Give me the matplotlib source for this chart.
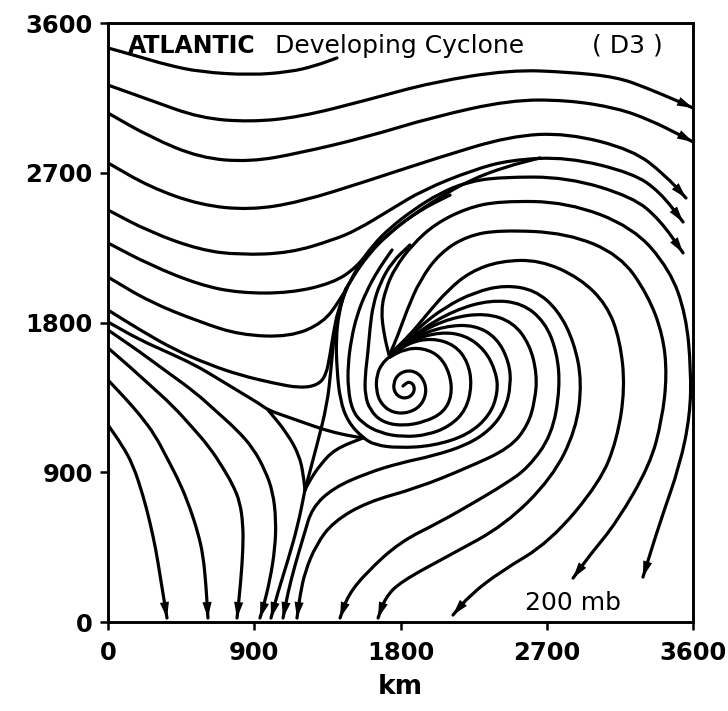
import matplotlib
matplotlib.use("Agg")
import matplotlib.pyplot as plt
from matplotlib.path import Path
from matplotlib.patches import PathPatch, FancyArrowPatch

# ---------------- data: streamlines (km) ----------------
ticks = [0, 900, 1800, 2700, 3600]
tick_labels = ["0", "900", "1800", "2700", "3600"]

w1_x = [0, 197, 363, 566, 874, 1120, 1274, 1409]
w1_y = [3450, 3396, 3348, 3306, 3287, 3306, 3342, 3390]

w2_x = [0, 258, 566, 874, 1182, 1594, 2000, 2474, 2825, 3132, 3317, 3520, 3600]
w2_y = [3227, 3137, 3029, 3005, 3035, 3137, 3245, 3318, 3306, 3275, 3209, 3125, 3089]

w3_x = [0, 258, 566, 874, 1182, 1594, 2000, 2474, 2825, 3132, 3335, 3520, 3600]
w3_y = [3059, 2915, 2789, 2765, 2819, 2915, 3035, 3137, 3137, 3089, 3017, 2927, 2885]

w4_x = [0, 258, 566, 874, 1182, 1594, 2025, 2474, 2825, 3231, 3428, 3557]
w4_y = [2759, 2614, 2506, 2476, 2524, 2650, 2789, 2921, 2939, 2837, 2686, 2548]

w5_x = [0, 258, 566, 812, 1120, 1385, 1532, 1735, 1938, 2246, 2474, 2825, 3231, 3397, 3539]
w5_y = [2476, 2344, 2236, 2206, 2218, 2296, 2356, 2476, 2596, 2717, 2777, 2795, 2698, 2584, 2404]

l6_x = [0, 258, 566, 812, 1120, 1385, 1532, 1631, 1735, 1877, 2043, 2209, 2412, 2825, 3231, 3397, 3539]
l6_y = [2278, 2146, 2025, 1977, 1977, 2037, 2133, 2266, 2368, 2476, 2578, 2644, 2674, 2674, 2554, 2416, 2218]

l7_x = [0, 258, 566, 812, 1120, 1323, 1428, 1502, 1600, 1735, 1920, 2105]
l7_y = [2073, 1923, 1803, 1725, 1713, 1797, 1935, 2067, 2206, 2344, 2476, 2566]

l8_x = [0, 197, 412, 628, 812, 1015, 1182, 1292, 1342, 1366, 1385, 1415, 1477]
l8_y = [1875, 1755, 1635, 1545, 1484, 1436, 1406, 1424, 1484, 1605, 1725, 1875, 2025]

b5_x = [0, 197, 363, 535, 671, 812, 935, 985, 1089, 1212, 1335, 1458, 1569]
b5_y = [1803, 1695, 1623, 1545, 1466, 1382, 1310, 1274, 1238, 1196, 1154, 1124, 1106]

b4_x = [0, 197, 363, 535, 671, 794, 892, 966, 1015, 1034, 1028, 997, 954, 935]
b4_y = [1755, 1623, 1503, 1382, 1262, 1154, 1046, 914, 781, 613, 445, 252, 84, 24]

b3_x = [0, 135, 258, 394, 523, 628, 708, 769, 812, 831, 831, 818, 794]
b3_y = [1647, 1533, 1424, 1304, 1166, 1046, 926, 823, 721, 583, 445, 252, 24]

b2_x = [0, 105, 197, 289, 363, 443, 505, 554, 585, 603, 615]
b2_y = [1454, 1346, 1244, 1124, 986, 835, 685, 535, 403, 222, 24]

b1_x = [0, 86, 154, 215, 258, 295, 320, 345, 363]
b1_y = [1184, 1064, 944, 763, 601, 433, 282, 132, 24]

tri_l_x = [985, 1102, 1182, 1206, 1212]
tri_l_y = [1274, 1136, 992, 853, 793]

tri_r_x = [1569, 1397, 1305, 1243, 1212]
tri_r_y = [1106, 1040, 944, 853, 793]

sep_x = [1212, 1286, 1348, 1372, 1391, 1428, 1489, 1582, 1705, 1858, 2043, 2228, 2443, 2658]
sep_y = [793, 1064, 1304, 1515, 1725, 1905, 2055, 2194, 2314, 2434, 2554, 2656, 2735, 2789]

t_down_x = [1212, 1169, 1108, 1046, 1003]
t_down_y = [793, 583, 373, 180, 24]

core_x = [1815, 1852, 1889, 1877, 1822, 1766, 1754, 1791, 1865, 1932, 1963, 1932, 1852, 1754, 1680, 1649, 1655, 1686, 1723]
core_y = [1418, 1448, 1418, 1364, 1340, 1370, 1436, 1496, 1515, 1478, 1394, 1304, 1256, 1256, 1310, 1394, 1490, 1551, 1587]

r2_x = [1735, 1828, 1938, 2043, 2105, 2117, 2068, 1951, 1809, 1686, 1612, 1582, 1582, 1600, 1612, 1631, 1674, 1748, 1858]
r2_y = [1593, 1641, 1647, 1599, 1490, 1364, 1262, 1202, 1178, 1202, 1274, 1364, 1478, 1623, 1767, 1905, 2037, 2164, 2266]

r3_x = [1735, 1846, 1994, 2135, 2215, 2240, 2203, 2105, 1969, 1815, 1674, 1563, 1502, 1477, 1477, 1496, 1532, 1588, 1662, 1748]
r3_y = [1593, 1677, 1707, 1665, 1563, 1424, 1274, 1178, 1124, 1112, 1136, 1196, 1274, 1406, 1545, 1695, 1845, 1983, 2116, 2236]

r4_x = [1735, 1871, 2043, 2197, 2320, 2388, 2400, 2351, 2215, 2000, 1785, 1643, 1569, 1477, 1428, 1409, 1403, 1421, 1465]
r4_y = [1593, 1695, 1743, 1725, 1635, 1503, 1382, 1244, 1124, 1058, 1046, 1064, 1106, 1202, 1334, 1515, 1695, 1863, 2007]

sa_x = [1735, 1889, 2074, 2258, 2394, 2468, 2480, 2443, 2351, 2209, 2000, 1797, 1594, 1385, 1255, 1206, 1151, 1108, 1077]
sa_y = [1593, 1713, 1779, 1785, 1707, 1563, 1424, 1274, 1154, 1064, 998, 956, 895, 805, 685, 523, 343, 180, 24]

sb_x = [1742, 1908, 2105, 2320, 2492, 2597, 2640, 2628, 2585, 2474, 2209, 1902, 1594, 1385, 1280, 1212, 1182, 1163]
sb_y = [1599, 1737, 1827, 1857, 1803, 1665, 1485, 1334, 1184, 1046, 926, 805, 721, 601, 463, 301, 162, 24]

sc_x = [1748, 1920, 2135, 2351, 2548, 2689, 2763, 2782, 2732, 2585, 2443, 2258, 2043, 1797, 1594, 1477, 1428]
sc_y = [1605, 1755, 1875, 1935, 1917, 1803, 1623, 1406, 1124, 926, 829, 721, 601, 481, 301, 162, 24]

sd_x = [1748, 1908, 2074, 2258, 2443, 2628, 2769, 2868, 2917, 2880, 2732, 2443, 2105, 1797, 1705, 1662]
sd_y = [1611, 1767, 1893, 1983, 2025, 1995, 1875, 1683, 1442, 1154, 865, 583, 403, 240, 144, 24]

se_x = [1742, 1858, 1969, 2092, 2228, 2412, 2658, 2905, 3071, 3151, 3182, 3132, 3028, 2720, 2412, 2228, 2123]
se_y = [1617, 1725, 1857, 1995, 2104, 2170, 2176, 2067, 1905, 1695, 1406, 1094, 841, 481, 301, 162, 42]

sf_x = [1735, 1785, 1840, 1920, 2043, 2209, 2412, 2825, 3151, 3323, 3415, 3440, 3409, 3335, 3132, 2966, 2862]
sf_y = [1611, 1725, 1875, 2055, 2218, 2320, 2356, 2338, 2206, 1965, 1725, 1484, 1214, 944, 601, 403, 264]

sg_x = [1729, 1699, 1680, 1711, 1766, 1871, 2012, 2209, 2412, 2825, 3231, 3459, 3557, 3588, 3582, 3520, 3397, 3292]
sg_y = [1605, 1725, 1875, 2007, 2128, 2266, 2392, 2488, 2530, 2524, 2374, 2116, 1845, 1515, 1244, 944, 601, 270]

# (x, y, arrow at end?)
streamlines = [
    (w1_x, w1_y, False), (w2_x, w2_y, True), (w3_x, w3_y, True),
    (w4_x, w4_y, True), (w5_x, w5_y, True), (l6_x, l6_y, True),
    (l7_x, l7_y, False), (l8_x, l8_y, False), (b5_x, b5_y, False),
    (b4_x, b4_y, True), (b3_x, b3_y, True), (b2_x, b2_y, True),
    (b1_x, b1_y, True), (tri_l_x, tri_l_y, False), (tri_r_x, tri_r_y, False),
    (sep_x, sep_y, False), (t_down_x, t_down_y, True),
    (core_x, core_y, False), (r2_x, r2_y, False), (r3_x, r3_y, False),
    (r4_x, r4_y, False), (sa_x, sa_y, True), (sb_x, sb_y, True),
    (sc_x, sc_y, True), (sd_x, sd_y, True), (se_x, se_y, True),
    (sf_x, sf_y, True), (sg_x, sg_y, True),
]

# ---------------- drawing ----------------
def smooth_path(xs, ys):
    pts = list(zip(xs, ys))
    verts = [pts[0]]
    codes = [Path.MOVETO]
    if len(pts) == 2:
        verts.append(pts[1]); codes.append(Path.LINETO)
        return Path(verts, codes)
    mids = [((pts[i][0] + pts[i + 1][0]) / 2, (pts[i][1] + pts[i + 1][1]) / 2)
            for i in range(len(pts) - 1)]
    verts.append(mids[0]); codes.append(Path.LINETO)
    for i in range(1, len(pts) - 1):
        verts += [pts[i], mids[i]]
        codes += [Path.CURVE3, Path.CURVE3]
    verts.append(pts[-1]); codes.append(Path.LINETO)
    return Path(verts, codes)

fig = plt.figure(figsize=(7.28, 7.11), dpi=100)
ax = fig.add_axes([108 / 728, 1 - 622 / 711, 585 / 728, 599 / 711])
ax.set_xlim(0, 3600)
ax.set_ylim(0, 3600)

for xs, ys, arrow in streamlines:
    ax.add_patch(PathPatch(smooth_path(xs, ys), facecolor="none", edgecolor="black",
                           lw=2.3, capstyle="round", joinstyle="round"))
    if arrow:
        ax.add_patch(FancyArrowPatch((xs[-2], ys[-2]), (xs[-1], ys[-1]),
                                     arrowstyle="-|>,head_length=1.15,head_width=0.33",
                                     mutation_scale=10, lw=0, color="black",
                                     shrinkA=0, shrinkB=0))

for s in ax.spines.values():
    s.set_linewidth(2.1)
ax.set_xticks(ticks)
ax.set_yticks(ticks)
ax.set_xticklabels(tick_labels)
ax.set_yticklabels(tick_labels)
ax.tick_params(direction="out", length=6, width=1.8, labelsize=17.5)
ax.tick_params(axis="x", pad=8)
ax.tick_params(axis="y", pad=5)
for lab in ax.get_xticklabels() + ax.get_yticklabels():
    lab.set_fontweight("bold")
ax.set_xlabel("km", fontsize=19, fontweight="bold", labelpad=6)

ax.text(0.034, 0.950, "ATLANTIC", transform=ax.transAxes, fontsize=17,
        fontweight="bold", va="baseline", ha="left")
ax.text(0.285, 0.950, "Developing Cyclone", transform=ax.transAxes, fontsize=18,
        va="baseline", ha="left")
ax.text(0.827, 0.950, "( D3 )", transform=ax.transAxes, fontsize=18,
        va="baseline", ha="left")
ax.text(0.713, 0.020, "200 mb", transform=ax.transAxes, fontsize=18,
        va="baseline", ha="left")

fig.savefig("out.png", dpi=100)
